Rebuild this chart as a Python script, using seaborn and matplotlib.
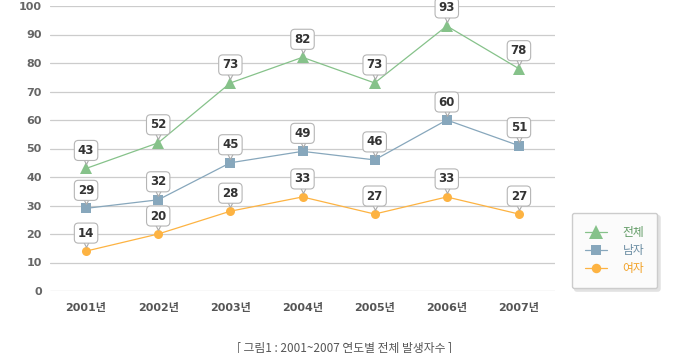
import pandas as pd
import numpy as np
import matplotlib
matplotlib.use('Agg')
import matplotlib.pyplot as plt
import matplotlib.transforms as mtrans
from matplotlib.lines import Line2D
import seaborn as sns

# 연도별 발생자수
years = ['2001년', '2002년', '2003년', '2004년', '2005년', '2006년', '2007년']
total = [43, 52, 73, 82, 73, 93, 78]
male = [29, 32, 45, 49, 46, 60, 51]
female = [14, 20, 28, 33, 27, 33, 27]
series = ['전체', '남자', '여자']

colors = {'전체': '#86c28a', '남자': '#87a7bc', '여자': '#fdb342'}
text_colors = {'전체': '#5f9a63', '남자': '#6a8ca2', '여자': '#f2a228'}
markers = {'전체': '^', '남자': 's', '여자': 'o'}
msize = {'전체': 9, '남자': 7.5, '여자': 6.5}

df = pd.DataFrame({
    'year': years * 3,
    'x': list(range(len(years))) * 3,
    'value': total + male + female,
    'series': [s for s in series for _ in years],
})

sns.set_style('white')
plt.rcParams['font.family'] = ['DejaVu Sans', 'Noto Sans CJK KR']

fig = plt.figure(figsize=(6.8, 3.53), dpi=100)
ax = fig.add_axes([50 / 680, 62 / 353, 505 / 680, 285 / 353])

# 말풍선 꼬리 위치 (점 위로 약 8px)
tail = mtrans.offset_copy(ax.transData, fig=fig, x=0, y=8, units='dots')

for s in series:
    d = df[df['series'] == s]
    sns.lineplot(data=d, x='x', y='value', ax=ax, color=colors[s], lw=0.9,
                 marker=markers[s], markersize=msize[s], markeredgewidth=0,
                 legend=False, zorder=3)
    ax.plot(d['x'], d['value'], marker='v', markersize=6, mfc='white', mec='#aaaaaa',
            mew=0.8, linestyle='none', transform=tail, zorder=4)
    for xi, v in zip(d['x'], d['value']):
        ax.annotate(str(v), xy=(xi, v), xytext=(0, 18), textcoords='offset pixels',
                    ha='center', va='center', fontsize=8.5, fontweight='bold',
                    color='#333333', zorder=5,
                    bbox=dict(boxstyle='round,pad=0.3,rounding_size=0.35',
                              fc='white', ec='#b5b5b5', lw=0.8))

ax.set_xlim(-0.5, 6.5)
ax.set_ylim(0, 100)
ax.set_yticks(range(0, 101, 10))
ax.set_xticks(range(len(years)))
ax.set_xticklabels(years)
ax.grid(axis='y', color='#cccccc', lw=0.9)
ax.set_axisbelow(True)
for sp in ax.spines.values():
    sp.set_visible(False)
ax.tick_params(axis='y', length=0, pad=6, labelsize=8, labelcolor='#666666')
ax.tick_params(axis='x', length=0, pad=9, labelsize=8, labelcolor='#555555')
for lab in ax.get_yticklabels() + ax.get_xticklabels():
    lab.set_fontweight('bold')
ax.set_xlabel('')
ax.set_ylabel('')

handles = [Line2D([], [], color=colors[s], marker=markers[s],
                  markersize=msize[s] * 1.05, markeredgewidth=0, lw=0.9)
           for s in series]
leg = fig.legend(handles, series, loc='center',
                 bbox_to_anchor=(567 / 680, 64 / 353, 95 / 680, 77 / 353),
                 frameon=True, fancybox=True, shadow={'color': '#e2e2e2', 'alpha': 1},
                 prop={'family': ['Noto Sans CJK KR'], 'size': 8.5},
                 handlelength=1.9, labelspacing=0.45, borderpad=1.1, handletextpad=1.3)
leg.get_frame().set_edgecolor('#cccccc')
leg.get_frame().set_facecolor('#fbfbfb')
for t, s in zip(leg.get_texts(), series):
    t.set_color(text_colors[s])

fig.text(345 / 680, 1 - 348 / 353, '[ 그림1 : 2001~2007 연도별 전체 발생자수 ]', ha='center', va='center',
         fontsize=8.5, color='#555555', family=['Noto Sans CJK KR', 'DejaVu Sans'])

fig.savefig('out.png', dpi=100)
